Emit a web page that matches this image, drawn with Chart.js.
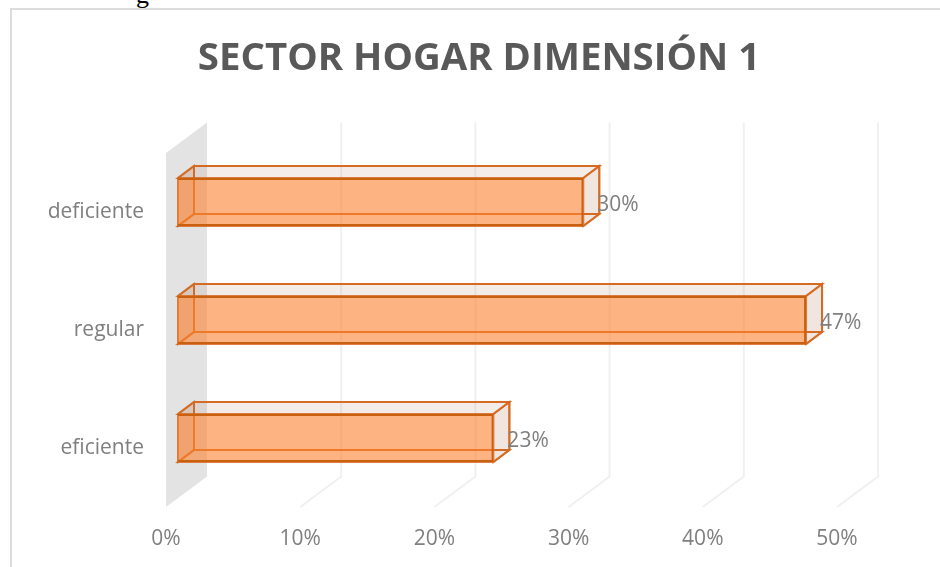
<!DOCTYPE html>
<html>
<head>
<meta charset="utf-8">
<script src="https://cdn.jsdelivr.net/npm/chart.js@4"></script>
<style>
html, body { margin: 0; padding: 0; background: #fff; overflow: hidden; }
#wrap { position: relative; width: 940px; height: 567px; overflow: hidden; }
#frame { position: absolute; left: 10px; top: 8px; width: 940px; height: 600px; border: 2px solid #dcdcdc; box-sizing: border-box; }
#cut { position: absolute; left: 136px; top: -20px; font: 26px "Liberation Serif"; color: #000; }
canvas { position: absolute; left: 0; top: 0; }
</style>
</head>
<body>
<div id="wrap">
  <div id="cut">g</div>
  <div id="frame"></div>
  <canvas id="myChart" width="940" height="567"></canvas>
</div>
<script>
// Values
var categories = ['deficiente', 'regular', 'eficiente'];
var shares = [30.2, 46.8, 23.5];
var shareLabels = ['30%', '47%', '23%'];
var titleText = 'SECTOR HOGAR DIMENSIÓN 1';

// The 3D look: how far the box sits behind the axis plane, and how deep it is
var wallDepth = { x: 41, y: -30.5 };
var barShift = { x: 12, y: -10 };
var barDepth = { x: 16, y: -12 };

var edgeColor = '#c9600f';
var backEdge = 'rgba(214,104,30,0.85)';
var labelFont = '21px "Open Sans"';

function poly(ctx, pts, fill, stroke) {
    ctx.beginPath();
    pts.forEach(function (p, i) {
        if (i === 0) ctx.moveTo(p[0], p[1]); else ctx.lineTo(p[0], p[1]);
    });
    ctx.closePath();
    if (fill) { ctx.fillStyle = fill; ctx.fill(); }
    if (stroke) { ctx.strokeStyle = stroke; ctx.lineWidth = 2; ctx.stroke(); }
}

var boxPlugin = {
    id: 'box3d',
    beforeDatasetsDraw: function (chart) {
        var ctx = chart.ctx, a = chart.chartArea, x = chart.scales.x;
        ctx.save();
        // title
        ctx.fillStyle = '#595959';
        ctx.font = 'bold 38.4px "Open Sans"';
        ctx.textAlign = 'center';
        ctx.textBaseline = 'middle';
        ctx.fillText(titleText, 479, 59);

        // wall at the zero line
        var x0 = x.getPixelForValue(0);
        poly(ctx, [[x0, a.top], [x0 + wallDepth.x, a.top + wallDepth.y],
            [x0 + wallDepth.x, a.bottom + wallDepth.y], [x0, a.bottom]], '#e3e3e3');

        // gridlines run up the back and slant down the floor
        ctx.strokeStyle = '#f0f0f0';
        ctx.lineWidth = 2;
        x.ticks.forEach(function (t) {
            if (t.value === 0) return;
            var px = x.getPixelForValue(t.value);
            ctx.beginPath();
            ctx.moveTo(px, a.bottom);
            ctx.lineTo(px + wallDepth.x, a.bottom + wallDepth.y);
            ctx.lineTo(px + wallDepth.x, a.top + wallDepth.y);
            ctx.stroke();
        });

        // back, left, top, right and bottom faces of each box
        var dx = barDepth.x, dy = barDepth.y;
        chart.getDatasetMeta(0).data.forEach(function (bar) {
            var p = bar.getProps(['x', 'y', 'base', 'height']);
            var l = p.base + barShift.x, r = p.x + barShift.x;
            var t = p.y - p.height / 2 + barShift.y, b = p.y + p.height / 2 + barShift.y;
            poly(ctx, [[l + dx, t + dy], [r + dx, t + dy], [r + dx, b + dy], [l + dx, b + dy]], null, backEdge);
            poly(ctx, [[l, t], [l + dx, t + dy], [l + dx, b + dy], [l, b]], 'rgba(200,110,50,0.12)', backEdge);
            poly(ctx, [[l, t], [r, t], [r + dx, t + dy], [l + dx, t + dy]], 'rgba(170,120,90,0.14)', backEdge);
            poly(ctx, [[r, t], [r + dx, t + dy], [r + dx, b + dy], [r, b]], 'rgba(170,110,80,0.18)', backEdge);
            poly(ctx, [[l, b], [r, b], [r + dx, b + dy], [l + dx, b + dy]], null, backEdge);
        });
        ctx.restore();
    },
    beforeDatasetDraw: function (chart) {
        chart.ctx.save();
        chart.ctx.translate(barShift.x, barShift.y);
    },
    afterDatasetDraw: function (chart) {
        chart.ctx.restore();
    },
    afterDatasetsDraw: function (chart) {
        var ctx = chart.ctx;
        ctx.save();
        ctx.fillStyle = '#7f7f7f';
        ctx.font = labelFont;
        ctx.textAlign = 'left';
        ctx.textBaseline = 'middle';
        chart.getDatasetMeta(0).data.forEach(function (bar, i) {
            ctx.fillText(shareLabels[i], bar.x + barShift.x + barDepth.x - 2, bar.y + barShift.y + 3);
        });
        ctx.restore();
    }
};

var ctx = document.getElementById('myChart').getContext('2d');

var myChart = new Chart(ctx, {
    type: 'bar',
    plugins: [boxPlugin],
    data: {
        labels: categories,
        datasets: [{
            data: shares,
            backgroundColor: 'rgba(252,130,47,0.6)',
            borderColor: edgeColor,
            borderWidth: 2,
            barPercentage: 0.407,
            categoryPercentage: 1,
            clip: false
        }]
    },
    options: {
        indexAxis: 'y',
        responsive: false,
        animation: false,
        layout: { padding: { top: 153, right: 103 } },
        plugins: { legend: { display: false }, title: { display: false }, tooltip: { enabled: false } },
        scales: {
            x: {
                min: 0,
                max: 50,
                grid: { display: false },
                border: { display: false },
                afterFit: function (s) { s.height = 60; },
                ticks: {
                    stepSize: 10,
                    padding: 11,
                    maxRotation: 0,
                    color: '#7f7f7f',
                    font: { family: 'Open Sans', size: 21 },
                    callback: function (v) { return v + '%'; }
                }
            },
            y: {
                grid: { display: false },
                border: { display: false },
                afterFit: function (s) { s.width = 166; },
                ticks: {
                    padding: 14,
                    color: '#7f7f7f',
                    font: { family: 'Open Sans', size: 21 }
                }
            }
        }
    }
});
</script>
</body>
</html>
